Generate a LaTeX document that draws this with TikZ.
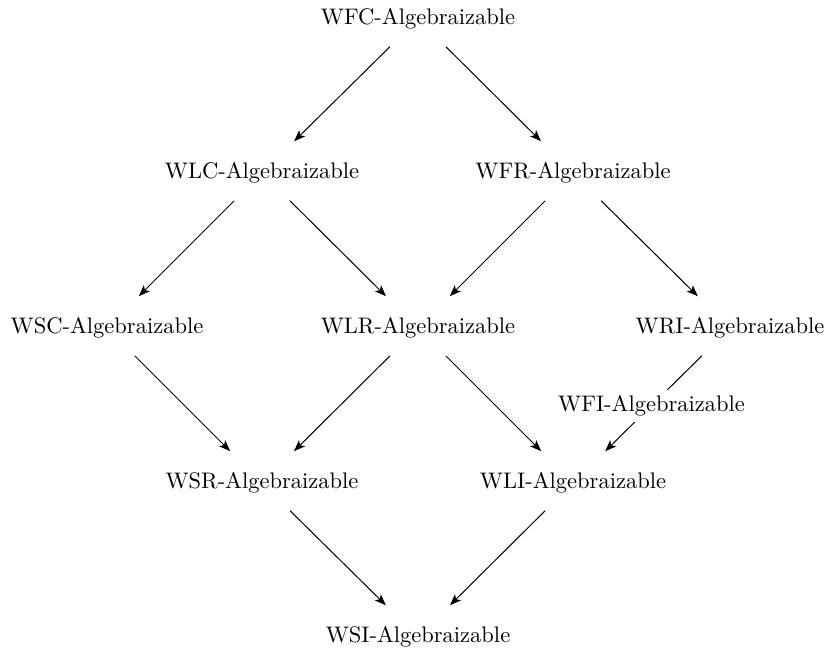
\documentclass[tikz,border=0pt]{standalone}
\usetikzlibrary{arrows.meta}
\begin{document}
\begin{tikzpicture}[x=0.4444pt,y=-0.4444pt,
  alg/.style={inner sep=3.33pt},
  imp/.style={-{Stealth[length=5pt,width=3.8pt,inset=1.2pt]},line width=0.45pt,shorten <=6pt,shorten >=8.5pt},
  lbl/.style={fill=white,inner sep=2.5pt}]
\useasboundingbox (0,0) rectangle (826,653);
\node[alg] (wfc) at (418,19) {WFC-Algebraizable};
\node[alg] (wlc) at (262,173) {WLC-Algebraizable};
\node[alg] (wfr) at (573,173) {WFR-Algebraizable};
\node[alg] (wsc) at (107,328) {WSC-Algebraizable};
\node[alg] (wlr) at (418,328) {WLR-Algebraizable};
\node[alg] (wri) at (730,328) {WRI-Algebraizable};
\node[alg] (wsr) at (262,483) {WSR-Algebraizable};
\node[alg] (wli) at (573,483) {WLI-Algebraizable};
\node[alg] (wsi) at (418,637) {WSI-Algebraizable};
\draw[imp] (wfc) -- (wlc);
\draw[imp] (wfc) -- (wfr);
\draw[imp] (wlc) -- (wsc);
\draw[imp] (wlc) -- (wlr);
\draw[imp] (wfr) -- (wlr);
\draw[imp] (wfr) -- (wri);
\draw[imp] (wsc) -- (wsr);
\draw[imp] (wlr) -- (wsr);
\draw[imp] (wlr) -- (wli);
\draw[imp] (wri) -- node[lbl] (wfi) {WFI-Algebraizable} (wli);
\draw[imp] (wsr) -- (wsi);
\draw[imp] (wli) -- (wsi);
\end{tikzpicture}
\end{document}
